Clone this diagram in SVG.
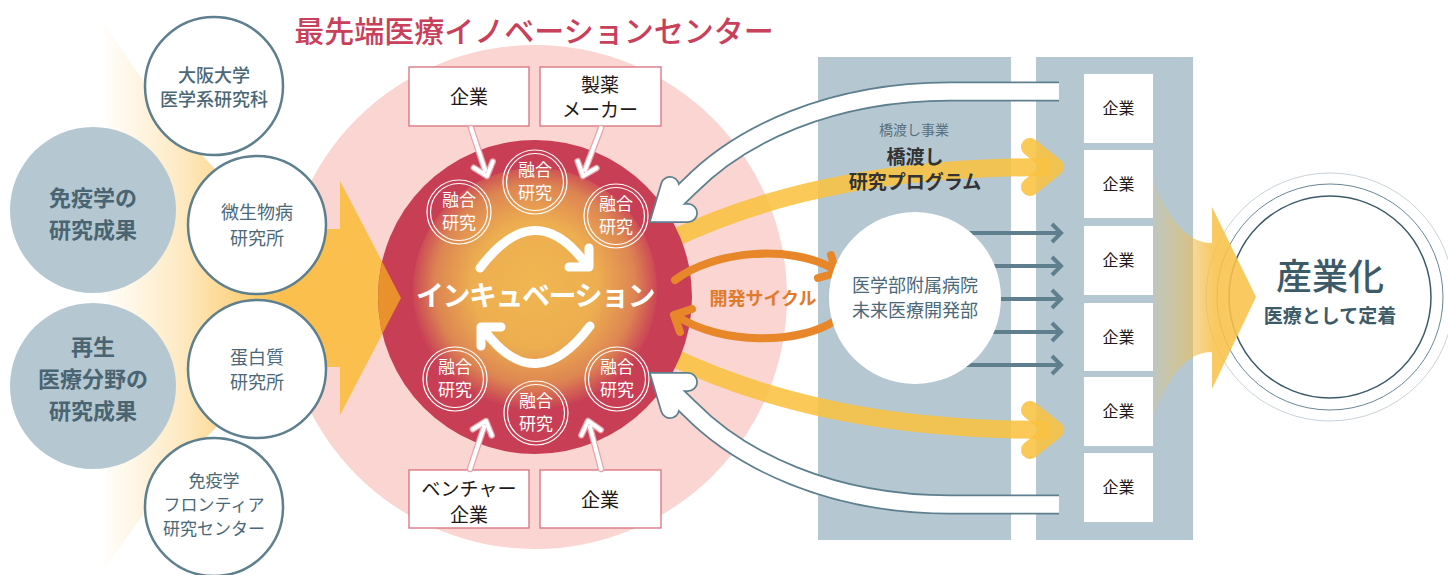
<svg xmlns="http://www.w3.org/2000/svg" width="1448" height="575" viewBox="0 0 1448 575">
<style>
text{font-family:'Noto Sans CJK JP','Noto Sans',sans-serif;text-anchor:middle}
.gc{fill:#B5C8D2}
.wc{fill:#fff;stroke:#5E7F8E;stroke-width:2.5}
.gt{fill:#4A6472;font-size:22px;font-weight:bold}
.wt{fill:#4A6878;font-size:18px}
.box{fill:#fff;stroke:#D9707F;stroke-width:1.3}
.bt{fill:#231815;font-size:19px}
.ring{fill:none;stroke:#fff;stroke-width:1.2}
.ft{fill:#fff;font-size:17px}
.co{fill:#fff}
.ct{fill:#231815;font-size:16px}
.sa1{fill:none;stroke:#E8A3AB;stroke-width:6.5;stroke-linecap:round;stroke-linejoin:round}
.sa2{fill:none;stroke:#fff;stroke-width:4;stroke-linecap:round;stroke-linejoin:round}
.ya{fill:none;stroke:#F9C140;stroke-width:18;stroke-linejoin:round;opacity:0.88}
.ga{fill:none;stroke:#5F7F8E;stroke-width:4}
.oa{fill:none;stroke:#E8872A;stroke-width:8;stroke-linecap:round;stroke-linejoin:round}
.wa{fill:none;stroke:#fff;stroke-width:9;stroke-linecap:round;stroke-linejoin:round}
.ho{fill:none;stroke:#5E7F8E;stroke-width:20;stroke-linejoin:miter}
.hi{fill:none;stroke:#fff;stroke-width:16.5;stroke-linejoin:miter}
.cap{stroke-linecap:round}
</style>
<defs>
<linearGradient id="lfan" gradientUnits="userSpaceOnUse" x1="100" y1="0" x2="285" y2="0">
<stop offset="0" stop-color="#FBC04E" stop-opacity="0"/>
<stop offset="0.45" stop-color="#FBC04E" stop-opacity="0.35"/>
<stop offset="1" stop-color="#FBC04E" stop-opacity="1"/>
</linearGradient>
<linearGradient id="rfan" gradientUnits="userSpaceOnUse" x1="1153" y1="0" x2="1215" y2="0">
<stop offset="0" stop-color="#F2C04A" stop-opacity="0.15"/>
<stop offset="0.7" stop-color="#F0BA45" stop-opacity="0.6"/>
<stop offset="1" stop-color="#F9C24A" stop-opacity="0.88"/>
</linearGradient>
<radialGradient id="inner" gradientUnits="userSpaceOnUse" cx="535" cy="285" r="125">
<stop offset="0" stop-color="#F0B650"/>
<stop offset="0.5" stop-color="#EDAE50"/>
<stop offset="0.8" stop-color="#DD8552"/>
<stop offset="1" stop-color="#C83F55"/>
</radialGradient>
<clipPath id="redclip"><circle cx="535" cy="297" r="157"/></clipPath>
</defs>

<!-- left fan -->
<path d="M100,18 C150,90 200,170 285,229 L285,367 C200,430 150,505 100,575 Z" fill="url(#lfan)"/>

<!-- right columns -->
<g id="columns">
<rect x="818" y="57" width="193" height="483" class="gc"/>
<rect x="1036" y="57" width="157" height="483" class="gc"/>
</g>

<!-- center pink -->
<circle cx="535" cy="297" r="252" fill="#FAD5D1"/>

<!-- big left arrow -->
<path id="bigarrow" d="M280,229 L340,229 L340,181 L401,298 L340,415 L340,367 L280,367 Z" fill="#FBBF4E"/>

<!-- yellow arrows (under red circle) -->
<g id="yellow-arrows">
<path class="ya" d="M670,240 C780,188 900,167 1050,167"/>
<path class="ya" stroke-linecap="round" d="M1030,147 L1055,167 L1030,187"/>
<path class="ya" d="M670,356 C780,408 900,430 1050,430"/>
<path class="ya" stroke-linecap="round" d="M1030,410 L1055,430 L1030,450"/>
</g>

<!-- red circle -->
<circle cx="535" cy="297" r="157" fill="#C83F55"/>
<circle cx="535" cy="290" r="122" fill="url(#inner)"/>
<path d="M280,229 L340,229 L340,181 L401,298 L340,415 L340,367 L280,367 Z" fill="#E9912C" clip-path="url(#redclip)"/>

<!-- title -->
<text x="534" y="42" style="font-size:30px;font-weight:500;fill:#C8405A">最先端医療イノベーションセンター</text>

<!-- left nodes -->
<g id="n-meneki"><circle cx="93" cy="210" r="83" class="gc"/><text class="gt" x="93" y="206">免疫学の</text><text class="gt" x="93" y="238">研究成果</text></g>
<g id="n-saisei"><circle cx="93" cy="386" r="83" class="gc"/><text class="gt" x="93" y="355">再生</text><text class="gt" x="93" y="387">医療分野の</text><text class="gt" x="93" y="419">研究成果</text></g>
<g id="n-osaka"><circle cx="214" cy="86" r="69" class="wc"/><text class="wt" x="214" y="82" font-weight="500">大阪大学</text><text class="wt" x="214" y="106" font-weight="500">医学系研究科</text></g>
<g id="n-biken"><circle cx="257" cy="225" r="69" class="wc"/><text class="wt" x="257" y="219">微生物病</text><text class="wt" x="257" y="245">研究所</text></g>
<g id="n-tanpaku"><circle cx="257" cy="369" r="69" class="wc"/><text class="wt" x="257" y="364">蛋白質</text><text class="wt" x="257" y="389">研究所</text></g>
<g id="n-ifrec"><circle cx="214" cy="507" r="69" class="wc"/><text class="wt" x="214" y="487" style="font-size:17px">免疫学</text><text class="wt" x="214" y="511" style="font-size:17px">フロンティア</text><text class="wt" x="214" y="535" style="font-size:17px">研究センター</text></g>

<!-- boxes -->
<g id="b-kigyo1"><rect x="409" y="67" width="120" height="59" class="box"/><text class="bt" x="469" y="104">企業</text></g>
<g id="b-seiyaku"><rect x="540" y="67" width="121" height="59" class="box"/><text class="bt" x="600" y="92">製薬</text><text class="bt" x="600" y="117">メーカー</text></g>
<g id="b-venture"><rect x="409" y="470" width="120" height="58" class="box"/><text class="bt" x="469" y="496">ベンチャー</text><text class="bt" x="469" y="522">企業</text></g>
<g id="b-kigyo2"><rect x="540" y="470" width="121" height="58" class="box"/><text class="bt" x="600" y="507">企業</text></g>

<!-- fusion research circles -->
<g id="f1"><circle cx="459" cy="212" r="32" class="ring"/><circle cx="459" cy="212" r="28.5" class="ring"/><text class="ft" x="459" y="206">融合</text><text class="ft" x="459" y="229">研究</text></g>
<g id="f2"><circle cx="535" cy="182" r="32" class="ring"/><circle cx="535" cy="182" r="28.5" class="ring"/><text class="ft" x="535" y="176">融合</text><text class="ft" x="535" y="199">研究</text></g>
<g id="f3"><circle cx="616" cy="216" r="32" class="ring"/><circle cx="616" cy="216" r="28.5" class="ring"/><text class="ft" x="616" y="210">融合</text><text class="ft" x="616" y="233">研究</text></g>
<g id="f4"><circle cx="455" cy="379" r="32" class="ring"/><circle cx="455" cy="379" r="28.5" class="ring"/><text class="ft" x="455" y="373">融合</text><text class="ft" x="455" y="396">研究</text></g>
<g id="f5"><circle cx="536" cy="413" r="32" class="ring"/><circle cx="536" cy="413" r="28.5" class="ring"/><text class="ft" x="536" y="407">融合</text><text class="ft" x="536" y="430">研究</text></g>
<g id="f6"><circle cx="617" cy="379" r="32" class="ring"/><circle cx="617" cy="379" r="28.5" class="ring"/><text class="ft" x="617" y="373">融合</text><text class="ft" x="617" y="396">研究</text></g>

<!-- incubation -->
<g id="incubation">
<path class="wa" d="M480,268 Q535,195 586,264"/>
<path class="wa" d="M589,248 L589,267 L569,267"/>
<path class="wa" d="M590,326 Q535,399 484,330"/>
<path class="wa" d="M481,346 L481,327 L501,327"/>
<text x="535" y="306" style="font-size:28px;font-weight:bold;fill:#fff;letter-spacing:-1.5px">インキュベーション</text>
</g>

<!-- company boxes -->
<g id="companies">
<g id="c1"><rect x="1084" y="74" width="69" height="69" class="co"/><text class="ct" x="1118.5" y="114">企業</text></g>
<g id="c2"><rect x="1084" y="150" width="69" height="68" class="co"/><text class="ct" x="1118.5" y="190">企業</text></g>
<g id="c3"><rect x="1084" y="226" width="69" height="69" class="co"/><text class="ct" x="1118.5" y="266">企業</text></g>
<g id="c4"><rect x="1084" y="303" width="69" height="68" class="co"/><text class="ct" x="1118.5" y="343">企業</text></g>
<g id="c5"><rect x="1084" y="377" width="69" height="69" class="co"/><text class="ct" x="1118.5" y="417">企業</text></g>
<g id="c6"><rect x="1084" y="453" width="69" height="69" class="co"/><text class="ct" x="1118.5" y="493">企業</text></g>
</g>

<!-- industrialization rings -->
<g id="n-sangyo">
<circle cx="1330" cy="297" r="124" fill="#fff" stroke="#C9D3DA" stroke-width="1"/>
<circle cx="1330" cy="297" r="113" fill="none" stroke="#6A8795" stroke-width="1"/>
<circle cx="1330" cy="297" r="101" fill="none" stroke="#3C5A68" stroke-width="1.5"/>
</g>
<path id="rightfan" d="M1153,178 C1170,225 1190,243 1212,243 L1212,207 L1256,297 L1212,389 L1212,352 C1190,352 1170,370 1153,418 Z" fill="url(#rfan)"/>
<text x="1330" y="290" style="font-size:36px;font-weight:500;fill:#3C5A68">産業化</text>
<text x="1330" y="323" style="font-size:19px;font-weight:bold;fill:#3C5A68">医療として定着</text>

<!-- connectors -->
<g id="connectors">
<!-- small arrows from boxes -->
<path class="sa1" d="M471,128 L485,170 M492.8,161.5 L487,176 L473.8,167.7"/>
<path class="sa2" d="M471,128 L485,170 M492.8,161.5 L487,176 L473.8,167.7"/>
<path class="sa1" d="M601,128 L585,170 M596.5,168.1 L583,176 L577.7,161.2"/>
<path class="sa2" d="M601,128 L585,170 M596.5,168.1 L583,176 L577.7,161.2"/>
<path class="sa1" d="M470,469 L484,427 M491.8,435.5 L486,421 L472.8,429.3"/>
<path class="sa2" d="M470,469 L484,427 M491.8,435.5 L486,421 L472.8,429.3"/>
<path class="sa1" d="M601,469 L590,427 M600.8,430 L588,421 L581.4,435.2"/>
<path class="sa2" d="M601,469 L590,427 M600.8,430 L588,421 L581.4,435.2"/>

<!-- hollow white arrows -->
<path class="ho" d="M1059,91.5 L950,91.5 C830,91.5 740,135 690,186 L662,213"/>
<path class="ho cap" d="M670,186 L662,213 L688,213"/>
<path class="hi" d="M1059,91.5 L950,91.5 C830,91.5 740,135 690,186 L662,213"/>
<path class="hi cap" d="M670,186 L662,213 L688,213"/>

<path class="ho" d="M1059,504.5 L950,504.5 C830,504.5 740,460 690,409 L662,382"/>
<path class="ho cap" d="M670,409 L662,382 L688,382"/>
<path class="hi" d="M1059,504.5 L950,504.5 C830,504.5 740,460 690,409 L662,382"/>
<path class="hi cap" d="M670,409 L662,382 L688,382"/>

<!-- gray arrows from hospital -->
<path class="ga" d="M930,233 H1061 M1052,224 L1061,233 L1052,242"/>
<path class="ga" d="M930,266 H1061 M1052,257 L1061,266 L1052,275"/>
<path class="ga" d="M930,299 H1061 M1052,290 L1061,299 L1052,308"/>
<path class="ga" d="M930,332 H1061 M1052,323 L1061,332 L1052,341"/>
<path class="ga" d="M930,365 H1061 M1052,356 L1061,365 L1052,374"/>

<!-- development cycle -->
<path class="oa" d="M675,280 C715,250 790,245 832,268"/>
<path class="oa" d="M831,255 L836,273 L818,278"/>
<path class="oa" d="M836,320 C800,345 720,345 677,316"/>
<path class="oa" d="M692,309 L674,315 L680,332"/>
</g>

<text x="763" y="305" style="font-size:18px;font-weight:bold;fill:#E07A2C">開発サイクル</text>

<!-- bridging program label -->
<g id="n-hashiwatashi">
<text x="914" y="135" style="font-size:14px;fill:#59707C">橋渡し事業</text>
<text x="915" y="164" style="font-size:19px;font-weight:bold;fill:#333">橋渡し</text>
<text x="915" y="189" style="font-size:19px;font-weight:bold;fill:#333">研究プログラム</text>
</g>

<!-- hospital -->
<g id="n-hospital">
<circle cx="915" cy="298" r="86" fill="#fff"/>
<text x="915" y="292" style="font-size:18px;fill:#4A6878">医学部附属病院</text>
<text x="915" y="317" style="font-size:18px;fill:#4A6878">未来医療開発部</text>
</g>
</svg>
